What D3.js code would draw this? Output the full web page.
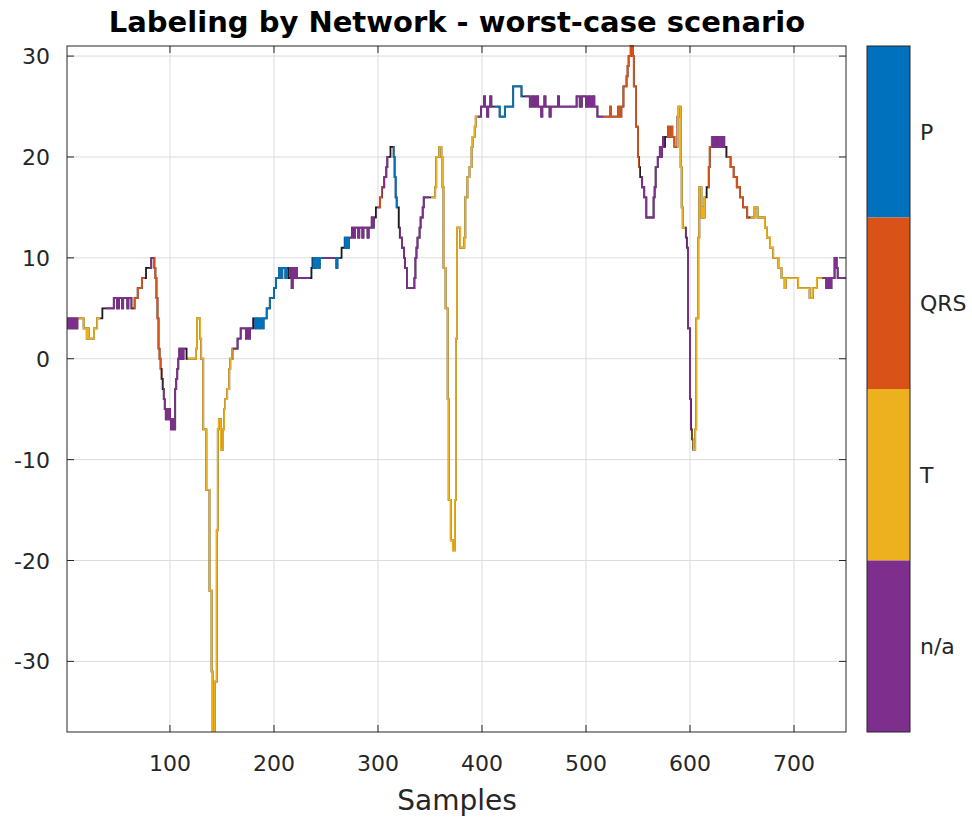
<!DOCTYPE html>
<html><head><meta charset="utf-8">
<script src="https://cdn.jsdelivr.net/npm/d3@7"></script>
<style>body{margin:0;background:#fff} svg{display:block} text{font-family:"DejaVu Sans",sans-serif}</style>
</head><body><svg id="c" width="972" height="817"></svg>
<script>
// Step keypoints of the signal (sample index -> value, held until the next keypoint)
const sampleIdx = [1,2,3,4,5,6,7,8,9,10,11,17,20,21,22,27,30,35,46,49,51,54,55,59,60,63,66,69,73,77,82,85,86,87,88,89,90,91,92,93,94,95,96,97,98,99,100,101,102,103,105,106,107,108,109,110,111,112,113,116,125,126,129,130,132,135,138,140,141,143,145,146,147,149,151,152,153,155,157,158,160,165,168,173,174,176,177,180,182,183,185,187,189,190,193,196,200,202,205,207,208,211,212,214,216,217,218,219,220,221,222,236,237,238,239,240,241,243,244,260,261,265,268,269,270,271,272,275,277,278,281,282,285,286,290,291,294,295,296,298,302,304,306,308,309,312,315,316,317,318,320,321,323,325,326,328,335,336,337,338,340,341,343,344,355,356,359,361,362,363,365,367,368,370,372,374,375,376,379,383,384,386,388,390,391,393,394,399,402,403,405,406,408,409,417,422,430,438,446,448,450,452,454,457,458,460,461,465,466,473,474,491,494,496,500,502,504,506,508,511,523,524,531,532,534,536,539,540,541,543,545,546,548,550,551,552,554,556,558,565,566,567,569,571,572,573,574,575,576,579,580,582,583,585,588,589,591,592,593,596,597,598,600,601,602,603,605,606,608,609,611,612,613,614,616,618,619,621,622,624,625,627,628,630,631,632,633,635,639,642,645,648,651,655,662,665,672,674,677,680,685,688,691,692,704,715,718,722,731,733,735,736,739,741,742,750];
const sampleVal = [4,3,4,3,4,3,4,3,4,3,4,3,2,3,2,3,4,5,6,5,6,5,6,5,6,5,6,7,8,9,10,9,8,6,4,1,0,-1,-2,-3,-4,-5,-6,-5,-6,-5,-6,-7,-6,-7,-3,-2,-1,0,1,0,1,0,1,0,1,4,2,0,-7,-13,-23,-31,-37,-32,-17,-7,-6,-9,-7,-5,-4,-3,-1,0,1,2,3,2,3,2,3,4,3,4,3,4,3,4,5,6,7,8,9,8,9,8,9,8,9,7,8,9,8,9,8,9,10,9,10,9,10,9,10,9,10,11,12,11,12,11,12,13,12,13,12,13,12,13,12,13,14,13,14,15,16,17,18,19,20,21,20,18,16,15,13,12,11,10,9,7,8,10,11,12,13,14,15,16,17,20,21,20,17,9,5,-4,-14,-18,-19,-14,2,13,11,12,16,18,19,21,22,23,24,25,26,25,24,25,26,25,24,25,27,26,25,26,25,26,25,24,25,26,25,24,25,26,25,26,25,26,25,26,25,26,25,24,25,24,25,24,25,27,28,29,30,31,30,27,23,20,19,18,17,16,14,16,17,19,20,21,20,21,22,21,22,23,22,23,22,21,24,25,19,15,13,12,11,3,-4,-7,-8,-9,-7,4,12,17,14,15,14,16,17,19,21,22,21,22,21,22,21,22,21,22,21,20,19,18,17,16,15,14,15,14,13,12,11,10,9,8,7,8,7,6,7,8,7,8,7,8,10,9,8,8];
// Label runs (sample ranges); gaps between runs are transitions drawn in black
const runStart = [1,12,38,65,80,84,93,117,160.5,181,215.5,237,247,258.5,267.5,273,299.5,304.5,314.5,320.5,351,396,412,441,516.5,553,577.5,587.5,596.5,602.5,617,621,635.5,658,727.5];
const runEnd   = [12,33,64,76,84,91.5,115,160.5,179.5,213,234.5,247,258.5,263.5,273,297,304.5,310.5,319,349.5,396,410.5,439.5,516.5,551.5,575.5,587.5,595.5,601.5,615,621,634,657,727.5,750];
const runClass = [3,2,3,1,3,1,3,2,3,0,3,0,3,0,0,3,1,3,0,3,2,3,0,3,1,3,1,2,3,2,1,3,1,2,3];
const classNames = ["P","QRS","T","n/a"];
const classColors = ["#0072BD","#D95319","#EDB120","#7E2F8E"];
const xTicks = [100,200,300,400,500,600,700];
const yTicks = [-30,-20,-10,0,10,20,30];

const svg = d3.select("#c");
const L = 67, R = 846, T = 46, B = 732;
const x = d3.scaleLinear().domain([1,750]).range([L,R]);
const y = d3.scaleLinear().domain([-37,31]).range([B,T]);
const axisCol = "#262626";

// grid
const g = svg.append("g");
g.selectAll(".gx").data(xTicks).join("line")
  .attr("x1",d=>x(d)).attr("x2",d=>x(d)).attr("y1",T).attr("y2",B)
  .attr("stroke","#dcdcdc").attr("stroke-width",1);
g.selectAll(".gy").data(yTicks).join("line")
  .attr("x1",L).attr("x2",R).attr("y1",d=>y(d)).attr("y2",d=>y(d))
  .attr("stroke","#dcdcdc").attr("stroke-width",1);

const pts = sampleIdx.map((s,i)=>[s, sampleVal[i]]);
const line = d3.line().x(d=>x(d[0])).y(d=>y(d[1])).curve(d3.curveStepAfter);
const defs = svg.append("defs");
defs.append("clipPath").attr("id","plotclip").append("rect")
  .attr("x",L).attr("y",T-1).attr("width",R-L).attr("height",B-T+1);
const plot = svg.append("g").attr("clip-path","url(#plotclip)");
plot.append("path").attr("d",line(pts)).attr("fill","none")
  .attr("stroke","#1a1a1a").attr("stroke-width",1.8);
runStart.forEach((s,i)=>{
  const id = "run"+i;
  defs.append("clipPath").attr("id",id).append("rect")
    .attr("x",x(s)).attr("y",T-2).attr("width",Math.max(0,x(runEnd[i])-x(s))).attr("height",B-T+4);
  plot.append("g").attr("clip-path",`url(#${id})`).append("path")
    .attr("d",line(pts)).attr("fill","none")
    .attr("stroke",classColors[runClass[i]]).attr("stroke-width",1.8);
});

// axes box & ticks (inside)
const ax = svg.append("g").attr("stroke",axisCol).attr("stroke-width",1);
ax.append("rect").attr("x",L).attr("y",T).attr("width",R-L).attr("height",B-T).attr("fill","none");
const tl = 7;
xTicks.forEach(t=>{
  ax.append("line").attr("x1",x(t)).attr("x2",x(t)).attr("y1",B).attr("y2",B-tl);
  ax.append("line").attr("x1",x(t)).attr("x2",x(t)).attr("y1",T).attr("y2",T+tl);
});
yTicks.forEach(t=>{
  ax.append("line").attr("x1",L).attr("x2",L+tl).attr("y1",y(t)).attr("y2",y(t));
  ax.append("line").attr("x1",R).attr("x2",R-tl).attr("y1",y(t)).attr("y2",y(t));
});

// tick labels
svg.append("g").selectAll("text").data(xTicks).join("text")
  .attr("x",d=>x(d)).attr("y",771).attr("text-anchor","middle")
  .attr("font-size",22).attr("fill",axisCol).text(d=>d);
svg.append("g").selectAll("text").data(yTicks).join("text")
  .attr("x",50).attr("y",d=>y(d)+8).attr("text-anchor","end")
  .attr("font-size",22).attr("fill",axisCol).text(d=>d);

svg.append("text").attr("x",457).attr("y",810).attr("text-anchor","middle")
  .attr("font-size",28).attr("fill",axisCol).text("Samples");
svg.append("text").attr("x",457).attr("y",32).attr("text-anchor","middle")
  .attr("font-size",29).attr("font-weight","bold").attr("fill","#000")
  .text("Labeling by Network - worst-case scenario");

// colorbar
const cbL = 867, cbR = 910;
const cb = d3.scaleBand().domain(d3.range(classNames.length)).range([T,B]);
const cbg = svg.append("g");
cbg.selectAll("rect").data(d3.range(classNames.length)).join("rect")
  .attr("x",cbL).attr("y",d=>cb(d)).attr("width",cbR-cbL).attr("height",cb.bandwidth())
  .attr("fill",d=>classColors[d]);
cbg.append("rect").attr("x",cbL).attr("y",T).attr("width",cbR-cbL).attr("height",B-T)
  .attr("fill","none").attr("stroke",axisCol).attr("stroke-width",1);
cbg.selectAll("text").data(classNames).join("text")
  .attr("x",cbR+10).attr("y",(d,i)=>cb(i)+cb.bandwidth()/2+8)
  .attr("font-size",22).attr("fill",axisCol).text(d=>d);
</script></body></html>
